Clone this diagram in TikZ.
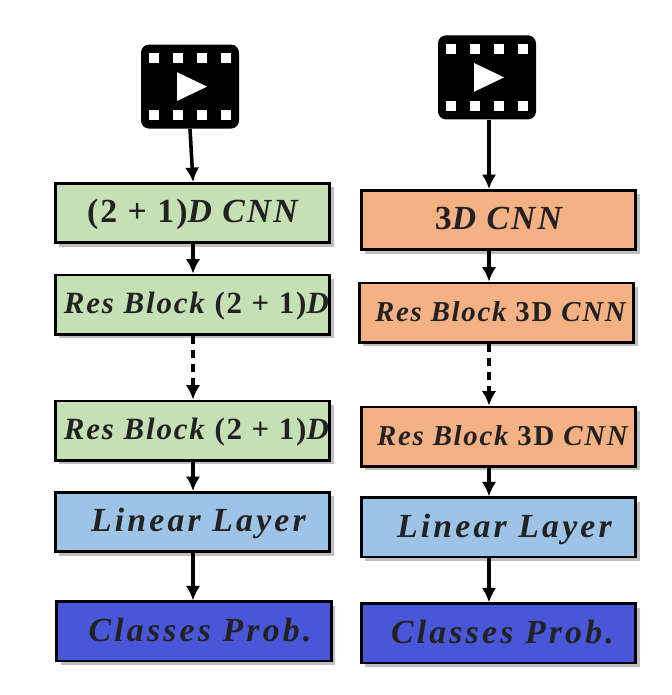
\documentclass[tikz,border=0pt]{standalone}
\usepackage{fontspec}
\setmainfont{Liberation Serif}
\newfontfamily\labelfont[LetterSpace=6]{Liberation Serif}
\newfontfamily\widefont[LetterSpace=9.5]{Liberation Serif}
\usetikzlibrary{shadows,arrows.meta}
\definecolor{greenbox}{HTML}{C5E0B4}
\definecolor{orangebox}{HTML}{F4B183}
\definecolor{bluebox}{HTML}{9DC3E6}
\definecolor{darkbox}{HTML}{4A56D8}
\definecolor{inktext}{HTML}{222222}
\newcommand{\up}[1]{{\upshape #1}}
\tikzset{
  layerbox/.style={draw=black, line width=.07cm, minimum width=6.86cm, minimum height=1.48cm,
    text=inktext, inner sep=0pt,
    drop shadow={shadow xshift=.1cm, shadow yshift=-.1cm, opacity=.5}},
  headtext/.style={text height=.72cm, text depth=.22cm, font=\labelfont\fontsize{24}{26}\selectfont\bfseries\itshape},
  restext/.style={text height=.66cm, text depth=.22cm, font=\labelfont\fontsize{#1}{24}\selectfont\bfseries\itshape},
  widetext/.style={text height=.72cm, text depth=.22cm, font=\widefont\fontsize{24}{26}\selectfont\bfseries\itshape},
  flow/.style={-{Latex[length=.36cm,width=.36cm]}, line width=.09cm, black},
  dashflow/.style={flow, dash pattern=on .22cm off .13cm},
  filmicon/.style={fill=black, rounded corners=.2cm, minimum width=2.45cm, minimum height=2.1cm,
    inner sep=0pt, path picture={
      \foreach \px in {-.9,-.3,.3,.9} {
        \fill[white, sharp corners] (path picture bounding box.center) ++(\px-.125,.585) rectangle ++(.25,.25);
        \fill[white, sharp corners] (path picture bounding box.center) ++(\px-.125,-.835) rectangle ++(.25,.25);
      }
      \fill[white, sharp corners] (path picture bounding box.center) ++(-.325,.36) -- ++(.75,-.36) -- ++(-.75,-.36) -- cycle;
    }},
}
\begin{document}
\begin{tikzpicture}
    \useasboundingbox (0,0) rectangle (16.8,17.375);
    % left column
    \node[filmicon] (VL) at (4.75,15.21) {};
    \node[layerbox, headtext, fill=greenbox] (CL) at (4.81,12.05) {\up{(2 + 1)}D CNN};
    \node[layerbox, restext=22, fill=greenbox] (RL) at (4.81,9.76) {\hspace{.2cm}Res Block \up{(2 + 1)}D};
    \node[layerbox, restext=22, fill=greenbox] (SL) at (4.81,6.61) {\hspace{.2cm}Res Block \up{(2 + 1)}D};
    \node[layerbox, widetext, fill=bluebox] (LL) at (4.81,4.325) {\hspace{.3cm}Linear Layer};
    \node[layerbox, widetext, fill=darkbox] (PL) at (4.85,1.59) {\hspace{.3cm}Classes Prob.};
    % right column
    \node[filmicon] (VR) at (12.175,15.44) {};
    \node[layerbox, headtext, fill=orangebox] (CR) at (12.46,11.875) {\up{3}D CNN};
    \node[layerbox, restext=20.5, fill=orangebox] (RR) at (12.41,9.56) {\hspace{.2cm}Res Block \up{3D} CNN};
    \node[layerbox, restext=20.5, fill=orangebox] (SR) at (12.46,6.46) {\hspace{.2cm}Res Block \up{3D} CNN};
    \node[layerbox, widetext, fill=bluebox] (LR) at (12.46,4.19) {\hspace{.3cm}Linear Layer};
    \node[layerbox, widetext, fill=darkbox] (PR) at (12.46,1.54) {\hspace{.2cm}Classes Prob.};
    \coordinate (AL) at (4.825,0);
    \coordinate (AR) at (12.225,0);
    \draw[flow] (VL.south) -- (CL.north -| AL);
    \draw[flow] (CL.south -| AL) -- (RL.north -| AL);
    \draw[dashflow] (RL.south -| AL) -- (SL.north -| AL);
    \draw[flow] (SL.south -| AL) -- (LL.north -| AL);
    \draw[flow] (LL.south -| AL) -- (PL.north -| AL);
    \draw[flow] (VR.south -| AR) -- (CR.north -| AR);
    \draw[flow] (CR.south -| AR) -- (RR.north -| AR);
    \draw[dashflow] (RR.south -| AR) -- (SR.north -| AR);
    \draw[flow] (SR.south -| AR) -- (LR.north -| AR);
    \draw[flow] (LR.south -| AR) -- (PR.north -| AR);
  \end{tikzpicture}
\end{document}
